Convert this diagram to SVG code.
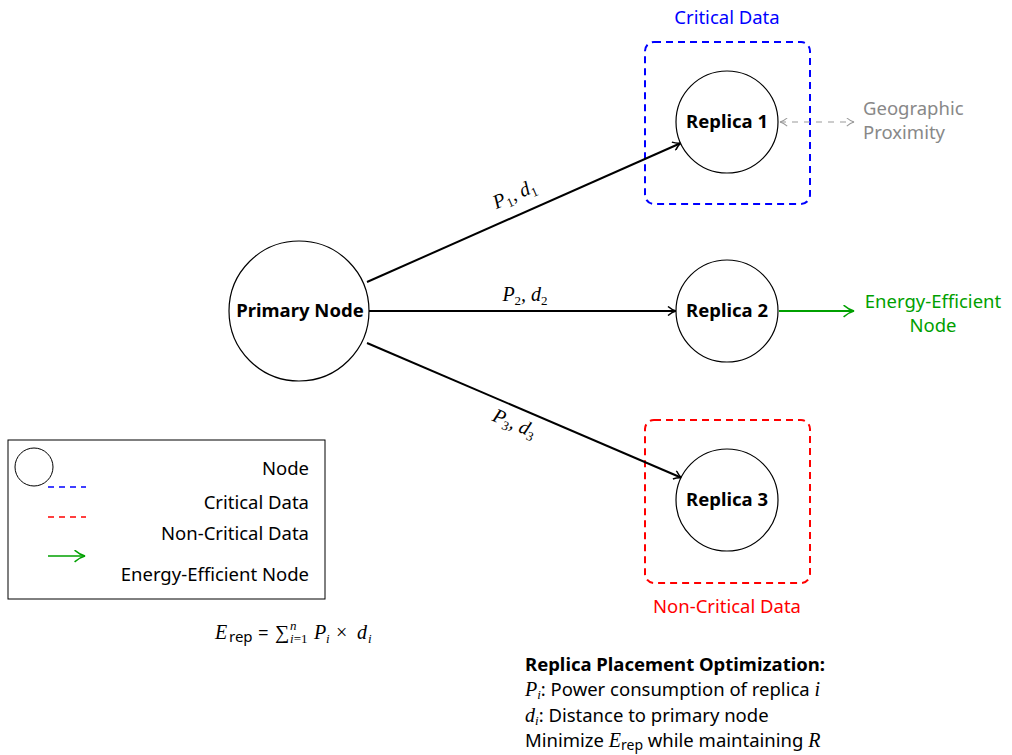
<svg xmlns="http://www.w3.org/2000/svg" width="1012" height="755" viewBox="0 0 1012 755">
  <defs>
    <marker id="arrBlack" viewBox="0 0 10 10" refX="9" refY="5" markerWidth="10" markerHeight="10" markerUnits="userSpaceOnUse" orient="auto">
      <path d="M1,0.5 Q5,4 9,5 Q5,6 1,9.5" fill="none" stroke="#000" stroke-width="1.5"/>
    </marker>
    <marker id="arrGreen" viewBox="0 0 10 10" refX="9" refY="5" markerWidth="13" markerHeight="13" markerUnits="userSpaceOnUse" orient="auto">
      <path d="M1,0.5 Q5,4 9,5 Q5,6 1,9.5" fill="none" stroke="#00a000" stroke-width="1.2"/>
    </marker>
    <marker id="arrGray" viewBox="0 0 10 10" refX="9" refY="5" markerWidth="9" markerHeight="9" markerUnits="userSpaceOnUse" orient="auto-start-reverse">
      <path d="M1,0.5 Q5,4 9,5 Q5,6 1,9.5" fill="none" stroke="#999" stroke-width="1.2"/>
    </marker>
  </defs>
  <style>
    .lbl { font-family: "Noto Sans", "Open Sans", sans-serif; font-size: 18.5px; fill: #000; }
    .bold { font-weight: bold; }
    .math { font-family: "Liberation Serif", serif; font-style: italic; font-size: 20px; }
    .up { font-style: normal; }
    .sub { font-size: 13px; }
    .node { fill: #fff; stroke: #000; stroke-width: 1.2; }
    .edge { stroke: #000; stroke-width: 2; fill: none; }
    .crit { fill: none; stroke: #0000ff; stroke-width: 2; stroke-dasharray: 7 5; }
    .noncrit { fill: none; stroke: #ff0000; stroke-width: 2; stroke-dasharray: 7 5; }
  </style>
  <rect width="1012" height="755" fill="#fff"/>

  <!-- data class regions -->
  <g id="critical-region">
    <rect class="crit" x="645" y="42" width="165" height="162" rx="9"/>
    <text class="lbl" x="727" y="24" text-anchor="middle" style="fill:#0000ff">Critical Data</text>
  </g>
  <g id="noncritical-region">
    <rect class="noncrit" x="645" y="420" width="165" height="163" rx="9"/>
    <text class="lbl" x="727" y="613" text-anchor="middle" style="fill:#ff0000">Non-Critical Data</text>
  </g>

  <!-- connectors -->
  <g id="connectors">
    <line class="edge" x1="367" y1="282" x2="681" y2="143" marker-end="url(#arrBlack)"/>
    <line class="edge" x1="369" y1="311" x2="676" y2="311" marker-end="url(#arrBlack)"/>
    <line class="edge" x1="367" y1="343" x2="682" y2="478" marker-end="url(#arrBlack)"/>
    <line x1="779" y1="311" x2="854" y2="311" stroke="#00a000" stroke-width="2" marker-end="url(#arrGreen)"/>
    <line x1="780" y1="122" x2="854" y2="122" stroke="#999" stroke-width="1.2" stroke-dasharray="6 6" marker-start="url(#arrGray)" marker-end="url(#arrGray)"/>

    <text class="math" transform="translate(517,200) rotate(-23.9)" text-anchor="middle">P<tspan class="sub up" dy="4">1</tspan><tspan dy="-4">, d</tspan><tspan class="sub up" dy="4">1</tspan></text>
    <text class="math" x="525" y="301" text-anchor="middle">P<tspan class="sub up" dy="4">2</tspan><tspan dy="-4">, d</tspan><tspan class="sub up" dy="4">2</tspan></text>
    <text class="math" transform="translate(512,429) rotate(23.1)" text-anchor="middle">P<tspan class="sub up" dy="4">3</tspan><tspan dy="-4">, d</tspan><tspan class="sub up" dy="4">3</tspan></text>
  </g>

  <!-- nodes -->
  <g id="primary">
    <circle class="node" cx="299" cy="311" r="70"/>
    <text class="lbl bold" x="300" y="317" text-anchor="middle">Primary Node</text>
  </g>
  <g id="replica1">
    <circle class="node" cx="727" cy="122" r="51"/>
    <text class="lbl bold" x="727" y="128" text-anchor="middle">Replica 1</text>
  </g>
  <g id="replica2">
    <circle class="node" cx="727" cy="311" r="51"/>
    <text class="lbl bold" x="727" y="317" text-anchor="middle">Replica 2</text>
  </g>
  <g id="replica3">
    <circle class="node" cx="727" cy="500" r="51"/>
    <text class="lbl bold" x="727" y="506" text-anchor="middle">Replica 3</text>
  </g>

  <g id="energy-label">
    <text class="lbl" x="933" y="308" text-anchor="middle" style="fill:#00a000">Energy-Efficient</text>
    <text class="lbl" x="933" y="332" text-anchor="middle" style="fill:#00a000">Node</text>
  </g>
  <g id="geo-label">
    <text class="lbl" x="863" y="115" style="fill:#888">Geographic</text>
    <text class="lbl" x="863" y="139" style="fill:#888">Proximity</text>
  </g>

  <!-- legend -->
  <g id="legend">
    <rect x="8" y="440" width="317" height="159" fill="#fff" stroke="#000" stroke-width="1"/>
    <circle cx="34" cy="467" r="19" fill="#fff" stroke="#000" stroke-width="1"/>
    <line x1="48" y1="487" x2="86" y2="487" stroke="#0000ff" stroke-width="1.5" stroke-dasharray="6 5"/>
    <line x1="48" y1="517" x2="86" y2="517" stroke="#ff0000" stroke-width="1.5" stroke-dasharray="6 5"/>
    <line x1="48" y1="556" x2="85" y2="556" stroke="#00a000" stroke-width="1.5" marker-end="url(#arrGreen)"/>
    <text class="lbl" x="309" y="475" text-anchor="end">Node</text>
    <text class="lbl" x="309" y="509" text-anchor="end">Critical Data</text>
    <text class="lbl" x="309" y="540" text-anchor="end">Non-Critical Data</text>
    <text class="lbl" x="309" y="581" text-anchor="end">Energy-Efficient Node</text>
  </g>

  <!-- energy formula -->
  <g id="formula">
    <text class="math" x="215" y="639">E</text>
    <text class="lbl" x="229" y="642" style="font-size:15px">rep</text>
    <text class="lbl" x="258" y="639">=</text>
    <text class="math up" x="275" y="639">∑</text>
    <text class="math sub" x="290" y="630">n</text>
    <text class="math sub" x="290" y="643">i<tspan class="up">=1</tspan></text>
    <text class="math" x="314" y="639">P</text>
    <text class="math sub" x="326" y="643">i</text>
    <text class="math up" x="336" y="639">×</text>
    <text class="math" x="357" y="639">d</text>
    <text class="math sub" x="368" y="643">i</text>
  </g>

  <!-- optimisation note -->
  <g id="note">
    <text class="lbl bold" x="525" y="671">Replica Placement Optimization:</text>
    <text class="lbl" x="525" y="696"><tspan class="math">P</tspan><tspan class="math sub" dy="3">i</tspan><tspan dy="-3">: Power consumption of replica </tspan><tspan class="math">i</tspan></text>
    <text class="lbl" x="525" y="722"><tspan class="math">d</tspan><tspan class="math sub" dy="3">i</tspan><tspan dy="-3">: Distance to primary node</tspan></text>
    <text class="lbl" x="525" y="747"><tspan>Minimize </tspan><tspan class="math">E</tspan><tspan style="font-size:14px" dy="3">rep</tspan><tspan dy="-3"> while maintaining </tspan><tspan class="math">R</tspan></text>
  </g>
</svg>
